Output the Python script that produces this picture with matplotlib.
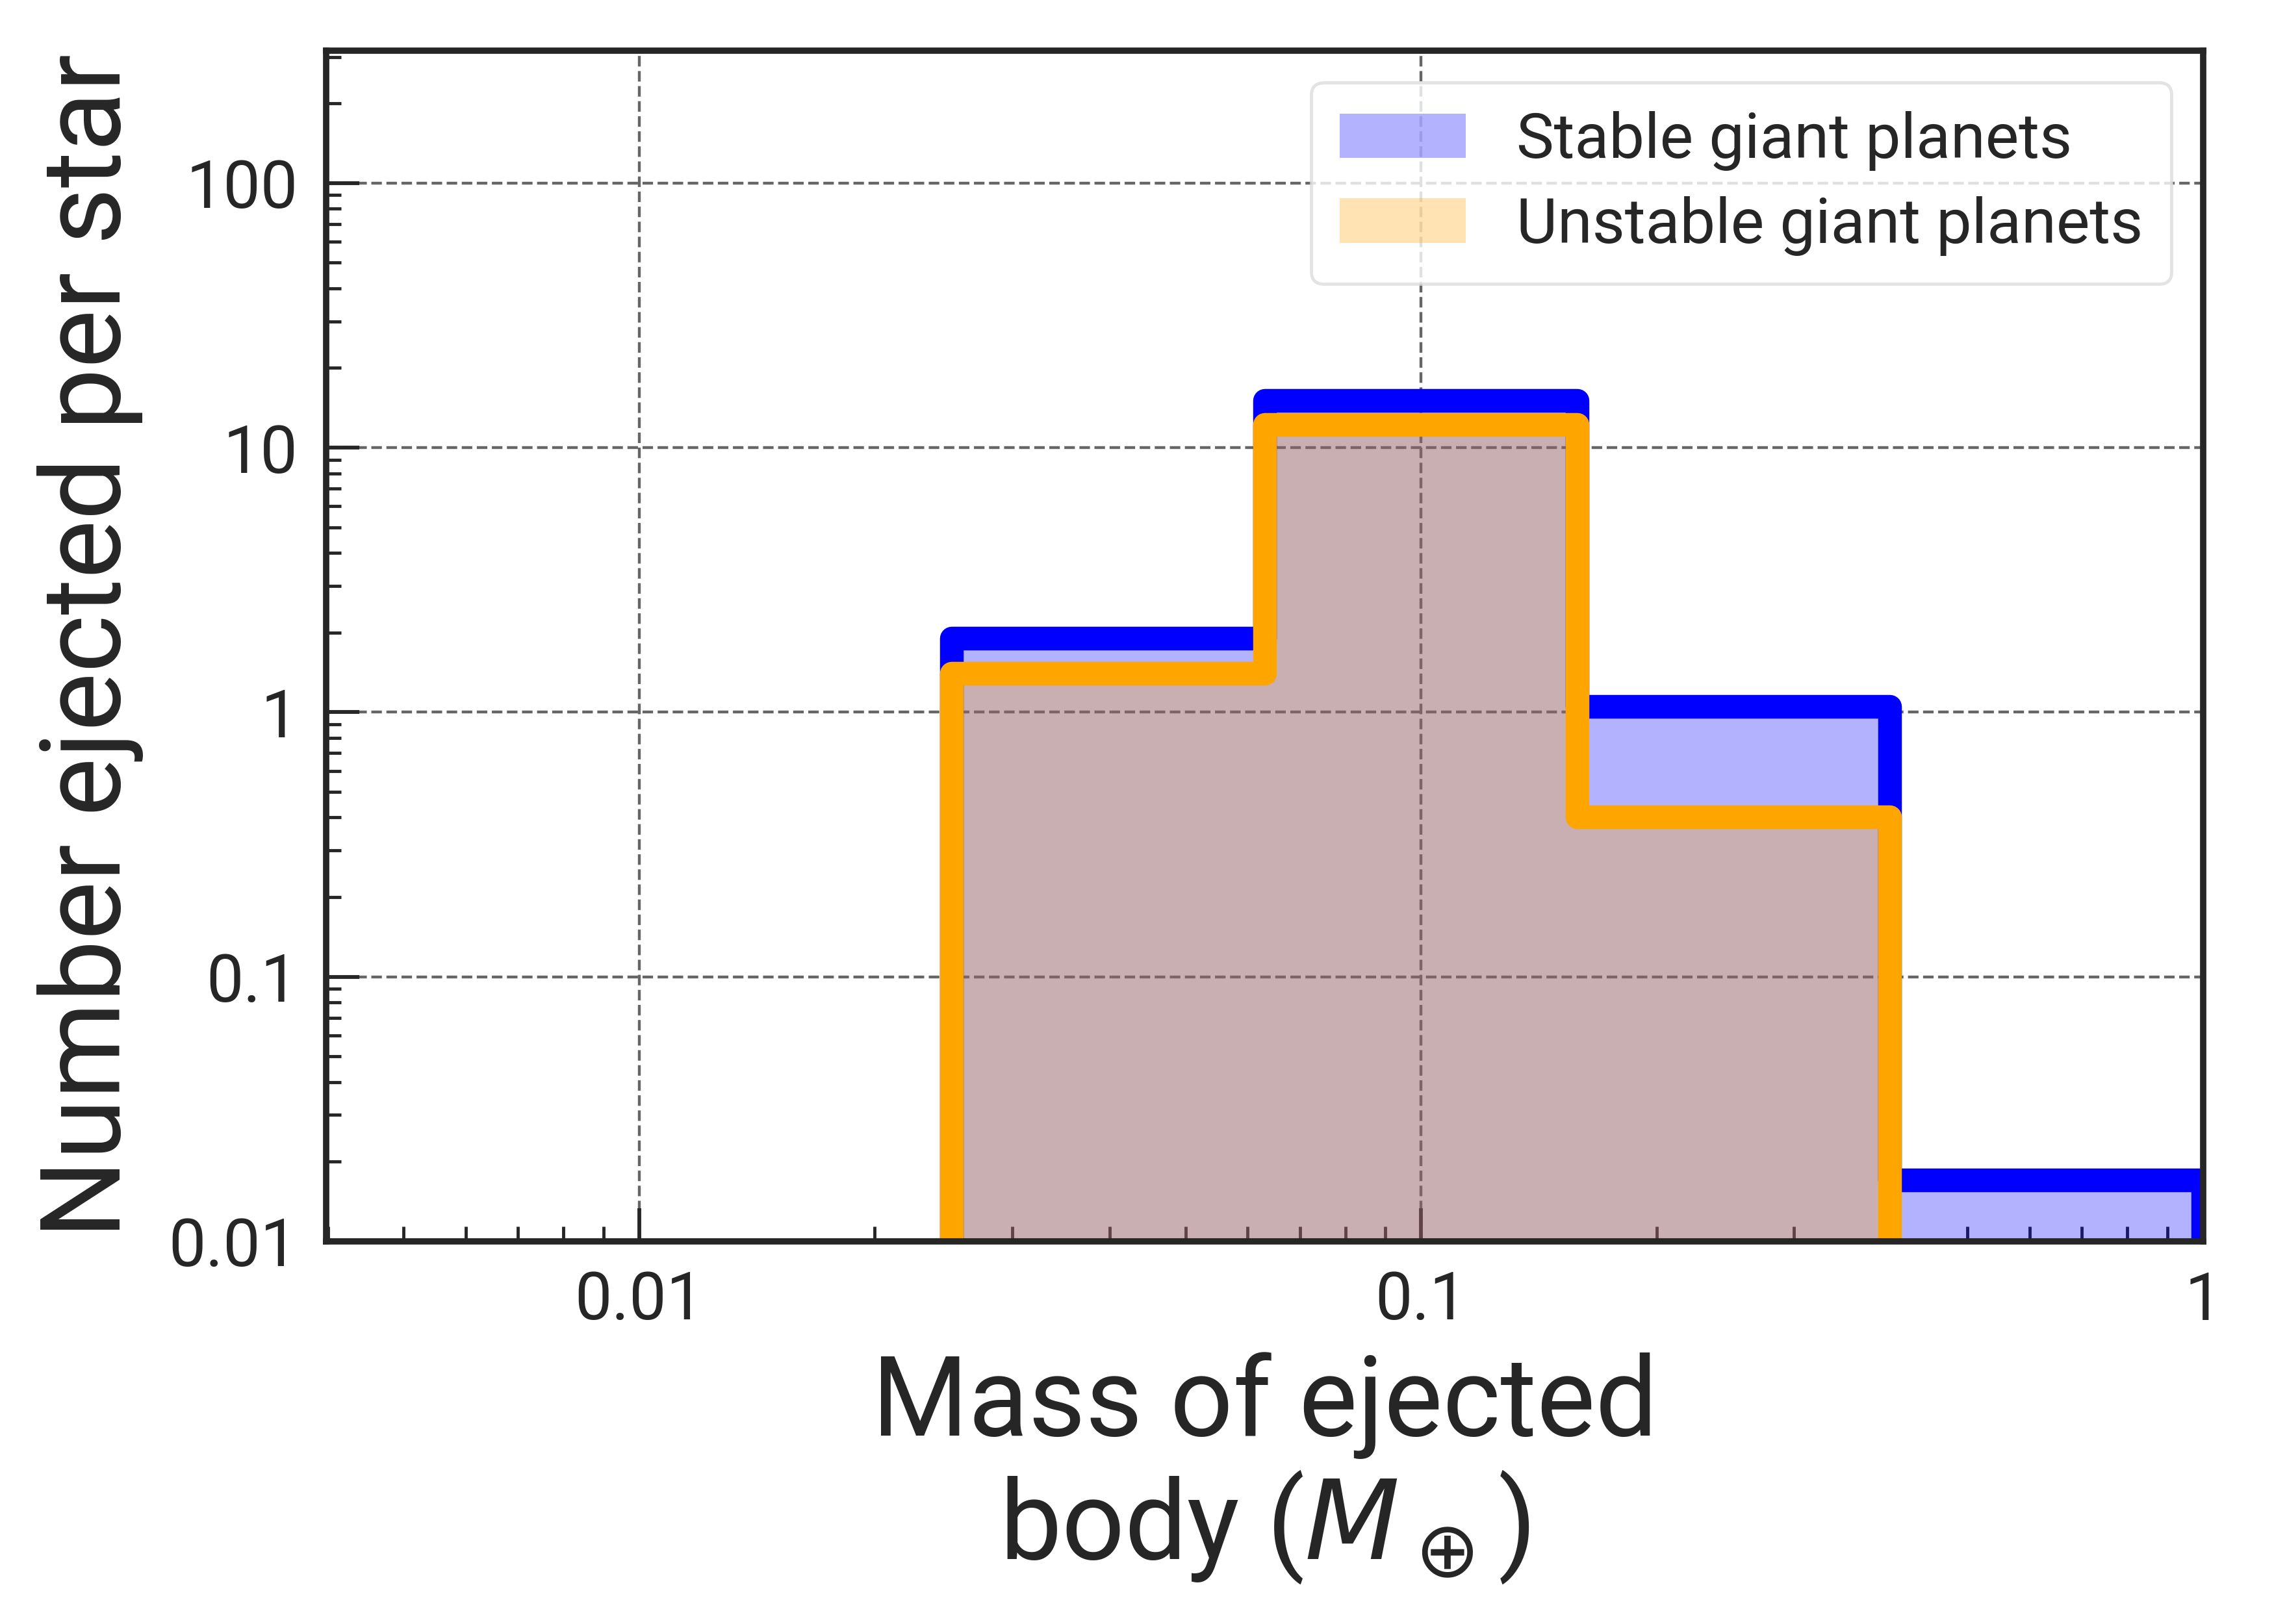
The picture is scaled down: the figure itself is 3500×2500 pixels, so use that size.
import numpy as np
import matplotlib
matplotlib.use("Agg")
import matplotlib.pyplot as plt
from matplotlib.ticker import FuncFormatter, LogLocator

# bin edges (log spaced) and counts per star
bin_edges = [10**-2.4, 10**-2.0, 10**-1.6, 10**-1.2, 10**-0.8, 10**-0.4, 1.0]
stable = [0, 0, 1.9, 15.0, 1.05, 0.017]
unstable = [0, 0, 1.4, 12.2, 0.40, 0]

labels = ["Stable giant planets", "Unstable giant planets"]

plt.rcParams['font.family'] = ['Roboto', 'DejaVu Sans']
plt.rcParams['text.color'] = '#262626'
plt.rcParams['axes.labelcolor'] = '#262626'
plt.rcParams['xtick.color'] = '#262626'
plt.rcParams['ytick.color'] = '#262626'

fig = plt.figure(figsize=(10, 50 / 7), dpi=350)
ax = fig.add_axes([0.1435, 0.2357, 0.8253, 0.733])

base = 1e-5
ax.stairs(stable, bin_edges, baseline=base, fill=True, color='blue', alpha=0.3,
          linewidth=0, label=labels[0])
ax.stairs(unstable, bin_edges, baseline=base, fill=True, color='orange', alpha=0.3,
          linewidth=0, label=labels[1])
ax.stairs(stable, bin_edges, baseline=base, color='blue', linewidth=7.5,
          joinstyle='round')
ax.stairs(unstable, bin_edges, baseline=base, color='orange', linewidth=7.5,
          joinstyle='round')

ax.set_xscale('log')
ax.set_yscale('log')
ax.set_xlim(10**-2.4, 1)
ax.set_ylim(0.01, 10**2.5)

fmt = FuncFormatter(lambda v, p: '%g' % v)
ax.xaxis.set_major_formatter(fmt)
ax.yaxis.set_major_formatter(fmt)
ax.xaxis.set_minor_locator(LogLocator(subs=np.arange(2, 10)))
ax.yaxis.set_minor_locator(LogLocator(subs=np.arange(2, 10)))
ax.xaxis.set_minor_formatter(plt.NullFormatter())
ax.yaxis.set_minor_formatter(plt.NullFormatter())

ax.tick_params(which='both', direction='in', top=False, right=False, labelsize=21)
ax.tick_params(which='major', length=10.5, width=1.2, pad=9)
ax.tick_params(which='minor', length=4.8, width=1.0)

for s in ax.spines.values():
    s.set_linewidth(2)
    s.set_color('#262626')

ax.grid(True, which='major', linestyle='--', color='#666666', linewidth=0.9)
ax.set_axisbelow(True)

ax.set_ylabel("Number ejected per star", fontsize=35, labelpad=8)
ax.set_xlabel("Mass of ejected\nbody ($M_\\oplus$)", fontsize=35, labelpad=6,
              linespacing=1.1)

leg = ax.legend(loc='upper right', fontsize=20, frameon=True, fancybox=True,
                framealpha=0.8, edgecolor='#dddddd', borderpad=0.45,
                handletextpad=0.8, labelspacing=0.4)

fig.savefig("out.png", dpi=350)
